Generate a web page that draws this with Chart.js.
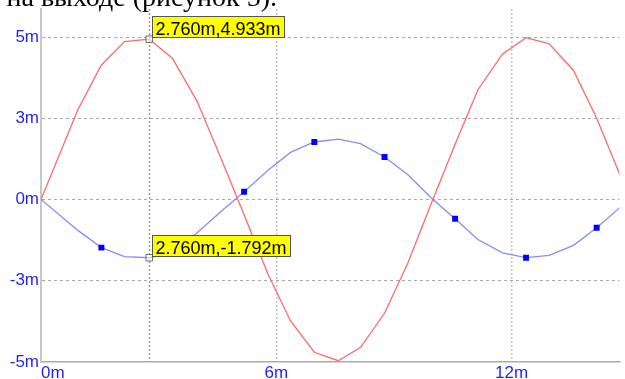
<!DOCTYPE html>
<html>
<head>
<meta charset="utf-8">
<script src="https://cdn.jsdelivr.net/npm/chart.js@4/dist/chart.umd.min.js"></script>
<style>
  html, body { margin: 0; padding: 0; background: #fff; overflow: hidden; }
  canvas { display: block; }
</style>
</head>
<body>
<canvas id="c" width="625" height="379"></canvas>
<script>
// Simulation time points (m) shared by both traces
const xValues = [0, 0.94, 1.54, 2.13, 2.76, 3.35, 3.98, 4.59, 5.18, 5.79, 6.36, 6.97, 7.58,
                 8.15, 8.76, 9.35, 9.96, 10.56, 11.14, 11.77, 12.37, 12.96, 13.58, 14.17, 14.8];
// Red trace (m)
const redValues = [0, 2.76, 4.14, 4.86, 4.933, 4.35, 3.02, 1.27, -0.48, -2.3, -3.73, -4.70, -4.96,
                   -4.55, -3.5, -1.97, -0.1, 1.7, 3.37, 4.48, 4.98, 4.79, 3.97, 2.5, 0.65];
// Blue trace (m)
const blueValues = [0, -0.95, -1.48, -1.76, -1.792, -1.63, -1.02, -0.37, 0.24, 0.9, 1.45, 1.77, 1.86,
                    1.72, 1.31, 0.77, 0.04, -0.59, -1.23, -1.64, -1.79, -1.72, -1.41, -0.87, -0.21];
// Points of the blue trace that carry a square marker
const blueMarkerIndex = [2, 5, 8, 11, 14, 17, 20, 23];

// Measurement cursor
const cursorX = 2.76;
const cursorValues = [4.933, -1.792];

// Axes
const xTickValues = [0, 6, 12];
const xTickLabels = ['0m', '6m', '12m'];
const yTickValues = [-5, -2.5, 0, 2.5, 5];
const yTickLabels = ['-5m', '-3m', '0m', '3m', '5m'];
const X_MIN = 0, X_MAX = 14.75;
const Y_MIN = -5, Y_MAX = 5.862;

const headingText = 'на выходе (рисунок 5).';

const toPoints = (ys) => xValues.map((x, i) => ({ x, y: ys[i] }));

const tickFont = { family: '"Liberation Sans", Arial, sans-serif', size: 17 };
const tickColor = '#1f1fff';

const cursorPlugin = {
  id: 'cursorReadout',
  beforeDatasetsDraw(chart) {
    const { ctx, chartArea, scales: { x } } = chart;
    const px = Math.round(x.getPixelForValue(cursorX)) + 0.5;
    ctx.save();
    ctx.strokeStyle = '#9a9a9a';
    ctx.lineWidth = 1.5;
    ctx.setLineDash([2, 2]);
    ctx.beginPath();
    ctx.moveTo(px, chartArea.top);
    ctx.lineTo(px, chartArea.bottom);
    ctx.stroke();
    ctx.restore();
  },
  afterDatasetsDraw(chart) {
    const { ctx, scales: { x, y } } = chart;
    ctx.save();
    ctx.font = '18px "Liberation Sans", Arial, sans-serif';
    ctx.textAlign = 'left';
    ctx.textBaseline = 'alphabetic';
    cursorValues.forEach(v => {
      const px = x.getPixelForValue(cursorX);
      const py = y.getPixelForValue(v);
      const text = cursorX.toFixed(3) + 'm,' + v.toFixed(3) + 'm';
      const w = Math.round(ctx.measureText(text).width + 7);
      const h = 21;
      const bx = Math.round(px + 3) + 0.5;
      const by = Math.round(py - 2 - h) + 0.5;
      ctx.fillStyle = '#ffff00';
      ctx.fillRect(bx, by, w, h);
      ctx.strokeStyle = '#555555';
      ctx.lineWidth = 1;
      ctx.strokeRect(bx, by, w, h);
      ctx.fillStyle = '#000000';
      ctx.fillText(text, bx + 3, by + h - 3);
    });
    ctx.restore();
  },
  afterDraw(chart) {
    const { ctx } = chart;
    ctx.save();
    ctx.font = '28px "Liberation Serif", "Times New Roman", serif';
    ctx.fillStyle = '#000';
    ctx.textAlign = 'right';
    ctx.textBaseline = 'alphabetic';
    ctx.fillText(headingText, 277, 6);
    ctx.restore();
  }
};

new Chart(document.getElementById('c'), {
  type: 'line',
  data: {
    datasets: [
      {
        label: 'cursor',
        data: cursorValues.map(v => ({ x: cursorX, y: v })),
        showLine: false,
        pointStyle: 'rect',
        pointRadius: 4.6,
        pointBorderWidth: 1,
        pointBorderColor: '#707070',
        pointBackgroundColor: 'rgba(255,255,255,0.6)'
      },
      {
        label: 'red',
        data: toPoints(redValues),
        borderColor: '#ff6a6a',
        borderWidth: 1.3,
        tension: 0,
        pointRadius: 0
      },
      {
        label: 'blue',
        data: toPoints(blueValues),
        borderColor: '#8a8aff',
        borderWidth: 1.3,
        tension: 0,
        pointStyle: 'rect',
        pointRadius: c => blueMarkerIndex.includes(c.dataIndex) ? 4.2 : 0,
        pointBorderWidth: 0,
        pointBackgroundColor: '#0000ff'
      }
    ]
  },
  options: {
    responsive: false,
    animation: false,
    events: [],
    layout: { padding: { top: 9, left: 0, right: 0, bottom: 0 } },
    plugins: { legend: { display: false }, tooltip: { enabled: false } },
    scales: {
      x: {
        type: 'linear',
        min: X_MIN,
        max: X_MAX,
        afterBuildTicks: s => { s.ticks = xTickValues.concat([X_MAX]).map(v => ({ value: v })); },
        afterFit: s => { s.height = 17; s.paddingLeft = 0; s.paddingRight = 0; },
        ticks: {
          autoSkip: false,
          maxRotation: 0,
          align: 'inner',
          padding: 1,
          color: tickColor,
          font: tickFont,
          callback: (value, index) => xTickLabels[index] !== undefined ? xTickLabels[index] : ''
        },
        grid: {
          drawTicks: false,
          lineWidth: 1.5,
          color: c => (c.tick && (c.tick.value === X_MIN || c.tick.value === X_MAX)) ? 'rgba(0,0,0,0)' : '#c6c6c6'
        },
        border: { display: true, color: '#ababab', width: 1.5, dash: [2, 2] }
      },
      y: {
        type: 'linear',
        min: Y_MIN,
        max: Y_MAX,
        afterBuildTicks: s => { s.ticks = yTickValues.map(v => ({ value: v })); },
        afterFit: s => { s.width = 41; s.paddingTop = 0; s.paddingBottom = 0; },
        ticks: {
          autoSkip: false,
          padding: 2,
          color: tickColor,
          font: tickFont,
          callback: (value, index) => yTickLabels[index]
        },
        grid: {
          drawTicks: false,
          lineWidth: 1,
          color: c => (c.tick && c.tick.value === Y_MIN) ? 'rgba(0,0,0,0)' : '#a8a8a8'
        },
        border: { display: true, color: '#c8c8c8', width: 2, dash: [3, 3] }
      }
    }
  },
  plugins: [cursorPlugin]
});
</script>
</body>
</html>
